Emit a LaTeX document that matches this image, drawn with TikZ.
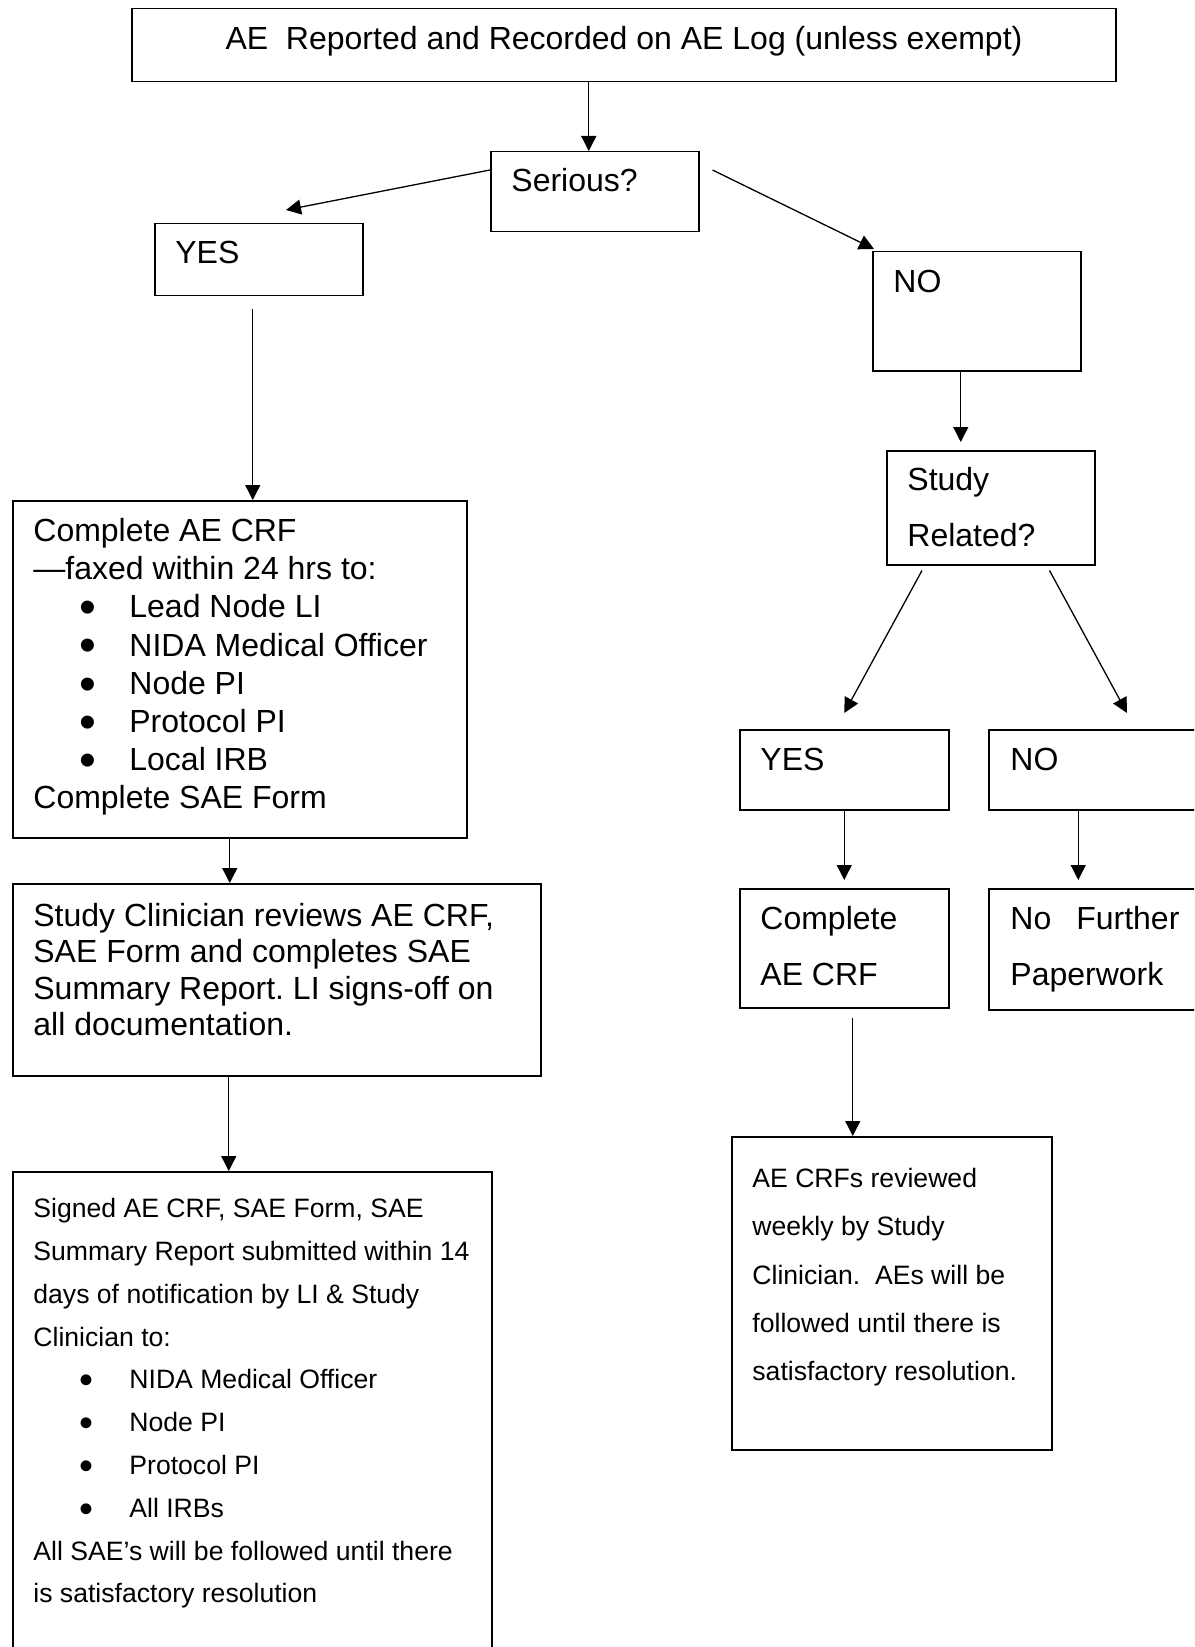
\documentclass[tikz,border=0pt]{standalone}
\usepackage{fontspec}
\usepackage{graphicx}
\setmainfont{Liberation Sans}
\usetikzlibrary{arrows.meta,calc}

\newcommand{\aeitem}[2][27.5pt]{\makebox[48pt][l]{\hspace*{#1}\makebox[0pt][c]{\smash{\raisebox{-0.18em}{\scalebox{1.5}{\textbullet}}}}}#2}

\begin{document}
\frenchspacing
\begin{tikzpicture}[
	x=0.5pt, y=-0.5pt,
	box/.style={
		draw, line width=0.75pt, rectangle,
		inner sep=0pt, anchor=north west
	},
	txt/.style={
		inner sep=0pt, anchor=north west, align=left,
		font=\fontsize{16}{19.1}\selectfont
	},
	twoline/.style={txt, font=\fontsize{16}{28}\selectfont},
	small/.style={txt, font=\fontsize{13.3}{#1}\selectfont},
	arr/.style={-{Triangle[length=7.5pt,width=7.5pt]}, line width=0.65pt},
	]
	\useasboundingbox (0,0) rectangle (1194,1647);
	\clip (0,0) rectangle (1194,1647);

	\node[box, minimum width=492pt, minimum height=36.5pt] (log) at (131,8) {};
	\node[txt, anchor=north] (logtxt) at (624,26)
	{AE\ \ Reported and Recorded on AE Log (unless exempt)};

	\node[box, minimum width=104pt, minimum height=40pt] (serious) at (490,151) {};
	\node[txt] (serioustxt) at (511,168) {Serious?};

	\node[box, minimum width=104pt, minimum height=36pt] (yesA) at (154,223) {};
	\node[txt] (yesAtxt) at (175,241) {YES};

	\node[box, minimum width=104pt, minimum height=59.5pt] (noA) at (872,251) {};
	\node[txt] (noAtxt) at (893,270) {NO};

	\node[box, minimum width=227pt, minimum height=168.5pt] (crf) at (12,500) {};
	\node[txt] (crftxt) at (33,518)
	{Complete AE CRF\\—faxed within 24 hrs to:\\\aeitem{Lead Node LI}\\\aeitem{NIDA Medical Officer}\\\aeitem{Node PI}\\\aeitem{Protocol PI}\\\aeitem{Local IRB}\\Complete SAE Form};

	\node[box, minimum width=104pt, minimum height=57pt] (related) at (886,450) {};
	\node[twoline] (relatedtxt) at (907,467) {Study\\Related?};

	\node[box, minimum width=104.5pt, minimum height=40pt] (yesB) at (739,729) {};
	\node[txt] (yesBtxt) at (760,748) {YES};

	\node[box, minimum width=104.5pt, minimum height=40pt] (noB) at (988,729) {};
	\node[txt] (noBtxt) at (1010,748) {NO};

	\node[box, minimum width=104.5pt, minimum height=59.5pt] (crfB) at (739,888) {};
	\node[twoline] (crfBtxt) at (760,906) {Complete\\AE CRF};

	\node[box, minimum width=104.5pt, minimum height=60.5pt] (nofurther) at (988,888) {};
	\node[twoline] (nofurthertxt) at (1010,906) {No\hspace{12.5pt}Further\\Paperwork};

	\node[box, minimum width=160pt, minimum height=156.5pt] (weekly) at (731,1136) {};
	\node[small=24.15pt] (weeklytxt) at (752,1168)
	{AE CRFs reviewed\\weekly by Study\\Clinician.\ \ AEs will be\\followed until there is\\satisfactory resolution.};

	\node[box, minimum width=264pt, minimum height=96pt] (clinician) at (12,883) {};
	\node[txt, font=\fontsize{16}{18.2}\selectfont] (cliniciantxt) at (33,903)
	{Study Clinician reviews AE CRF,\\SAE Form and completes SAE\\Summary Report. LI signs-off on\\all documentation.};

	\node[box, minimum width=239.5pt, minimum height=250pt] (signed) at (12,1171) {};
	\node[small=21.4pt] (signedtxt) at (33,1198)
	{Signed AE CRF, SAE Form, SAE\\Summary Report submitted within 14\\days of notification by LI \& Study\\Clinician to:\\\aeitem[26.5pt]{NIDA Medical Officer}\\\aeitem[26.5pt]{Node PI}\\\aeitem[26.5pt]{Protocol PI}\\\aeitem[26.5pt]{All IRBs}\\All SAE’s will be followed until there\\is satisfactory resolution};

	\draw[arr] ([xshift=-3pt]serious.north |- log.south) -- ([xshift=-3pt]serious.north);
	\draw[arr] ($(serious.north west)+(0,19)$) -- ($(yesA.north west)+(132,-13)$);
	\draw[arr] ($(serious.north east)+(13,19)$) -- ($(noA.north west)+(2,-2)$);
	\draw[arr] ([shift={(-6,13)}]yesA.south) -- ([xshift=-3pt]yesA.south |- crf.north);
	\draw[arr, shorten >=4pt] ([xshift=-8pt]noA.south) -- ([xshift=-8pt]noA.south |- related.north);
	\draw[arr] ($(related.south west)+(36,5)$) -- ($(yesB.north)+(0,-16)$);
	\draw[arr] ($(related.south east)+(-46,5)$) -- ($(noB.north west)+(139,-16)$);
	\draw[arr, shorten >=4pt] (yesB.south) -- (crfB.north);
	\draw[arr, shorten >=4pt] ([xshift=-7.5pt]noB.south) -- ([xshift=-7.5pt]noB.south |- nofurther.north);
	\draw[arr] ([shift={(8.5,9)}]crfB.south) -- ([xshift=4.25pt]crfB.south |- weekly.north);
	\draw[arr] ([xshift=-5pt]crf.south) -- ([xshift=-5pt]crf.south |- clinician.north);
	\draw[arr] ([xshift=-24pt]clinician.south) -- ([xshift=-24pt]clinician.south |- signed.north);
\end{tikzpicture}
\end{document}
